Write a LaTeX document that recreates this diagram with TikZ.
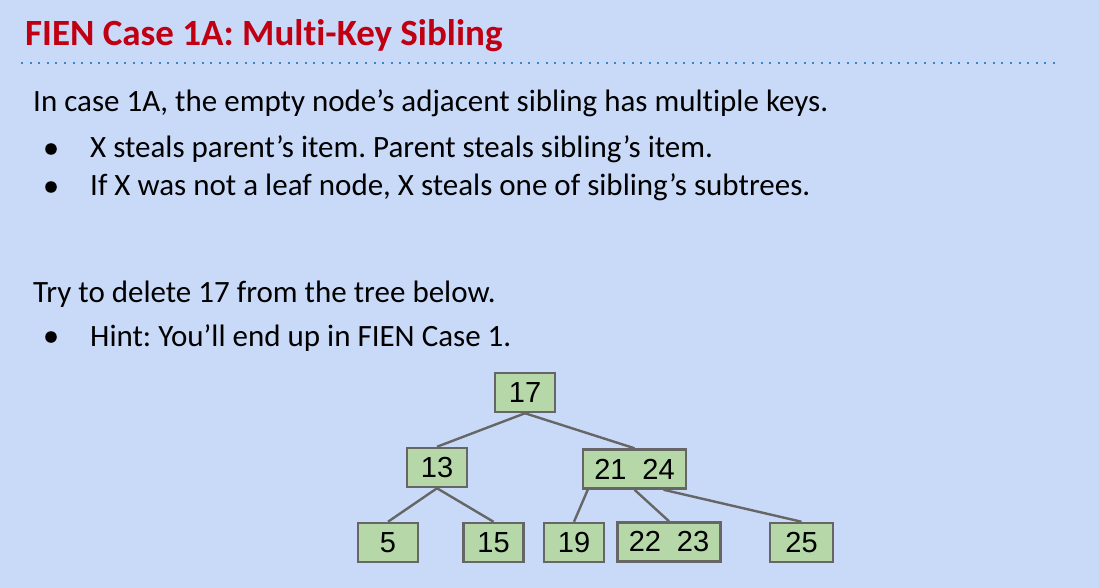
\documentclass[tikz,border=0pt]{standalone}
\usepackage{fontspec}
\setmainfont[Ligatures=NoCommon]{Carlito}
\newfontfamily\keyfont{Liberation Sans}
\usetikzlibrary{calc}
\definecolor{slidebg}{HTML}{C9DAF8}
\definecolor{titlered}{HTML}{C00012}
\definecolor{rulecol}{HTML}{3D85C6}
\definecolor{keyfill}{HTML}{B6D7A8}
\definecolor{edgegray}{HTML}{666666}
\tikzset{
  keybox/.style={draw=edgegray, fill=keyfill, line width=2.5pt, inner sep=0pt,
    minimum height=39pt, font=\keyfont\fontsize{29}{31}\selectfont},
  treeedge/.style={draw=edgegray, line width=2.4pt},
  bodytext/.style={anchor=base west, inner sep=0pt, font=\fontsize{31}{34}\selectfont},
  bulletdot/.style={fill=black, draw=none}
}
\begin{document}
\frenchspacing
\begin{tikzpicture}[x=1pt,y=-1pt]
  \fill[slidebg] (0,0) rectangle (1099,588);
  \useasboundingbox (0,0) rectangle (1099,588);

  % heading and dotted rule
  \node[anchor=base west, inner sep=0pt, text=titlered,
        font=\bfseries\fontsize{37}{42}\selectfont] (title) at (25,45.5) {FIEN Case 1A: Multi-Key Sibling};
  \draw[rulecol, line width=2pt, dash pattern=on 2pt off 6.6pt] (21,63) -- (1056,63);

  % body text
  \node[bodytext] (l1) at (33,112) {In case 1A, the empty node’s adjacent sibling has multiple keys.};
  \fill[bulletdot] (51,149) circle (5.8);
  \node[bodytext] (l2) at (90,158) {X steals parent’s item. Parent steals sibling’s item.};
  \fill[bulletdot] (51,187) circle (5.8);
  \node[bodytext] (l3) at (90,196) {If X was not a leaf node, X steals one of sibling’s subtrees.};
  \node[bodytext] (l4) at (33,302) {Try to delete 17 from the tree below.};
  \fill[bulletdot] (51,337) circle (5.8);
  \node[bodytext] (l5) at (90,346) {Hint: You’ll end up in FIEN Case 1.};

  % 2-3 tree
  \node[keybox, minimum width=60pt] (n17) at (525,392.5) {17};
  \node[keybox, minimum width=60pt] (n13) at (437,467.5) {13};
  \node[keybox, minimum width=103pt] (n2124) at (634.5,469) {21\hspace{0.55em}24};
  \node[keybox, minimum width=60pt] (n5) at (388,542.5) {5};
  \node[keybox, minimum width=60pt] (n15) at (493.5,542.5) {15};
  \node[keybox, minimum width=60pt] (n19) at (574,542.5) {19};
  \node[keybox, minimum width=103pt] (n2223) at (669,542) {22\hspace{0.55em}23};
  \node[keybox, minimum width=63pt] (n25) at (801.5,542.5) {25};

  \coordinate (k1) at ($(n2124.south west)+(6,0)$);
  \coordinate (k3) at ($(n2124.south)+(29,0)$);

  \draw[treeedge] (n17.south) -- (n13.north);
  \draw[treeedge] (n17.south) -- (n2124.north);
  \draw[treeedge] (n13.south) -- (n5.north);
  \draw[treeedge] (n13.south) -- (n15.north);
  \draw[treeedge] (k1) -- (n19.north);
  \draw[treeedge] (n2124.south) -- (n2223.north);
  \draw[treeedge] (k3) -- (n25.north);
\end{tikzpicture}
\end{document}
